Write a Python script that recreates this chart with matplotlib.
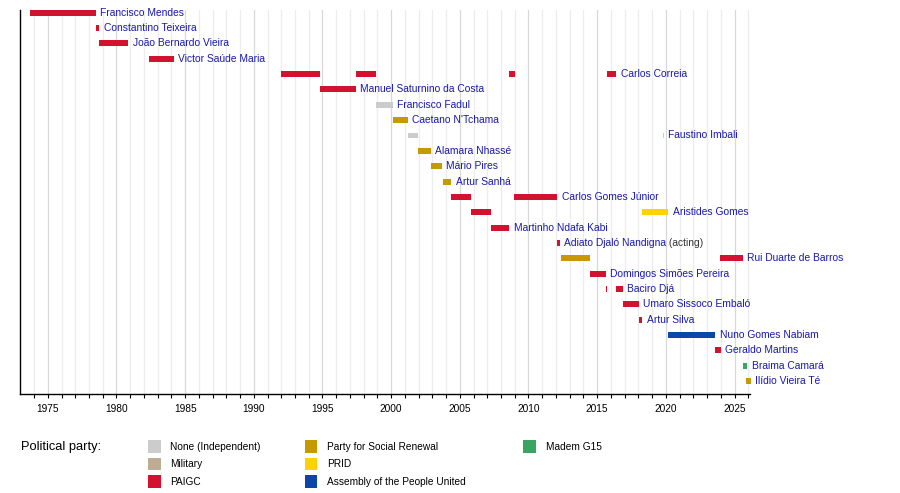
import matplotlib
matplotlib.use("Agg")
import matplotlib.pyplot as plt
from matplotlib.patches import Rectangle
import numpy as np

plt.rcParams["font.family"] = ["Liberation Sans", "DejaVu Sans"]

# rows of the timeline, top to bottom
names = [
    "Francisco Mendes", "Constantino Teixeira", "João Bernardo Vieira",
    "Victor Saúde Maria", "Carlos Correia", "Manuel Saturnino da Costa",
    "Francisco Fadul", "Caetano N'Tchama", "Faustino Imbali",
    "Alamara Nhassé", "Mário Pires", "Artur Sanhá", "Carlos Gomes Júnior",
    "Aristides Gomes", "Martinho Ndafa Kabi", "Adiato Djaló Nandigna",
    "Rui Duarte de Barros", "Domingos Simões Pereira", "Baciro Djá",
    "Umaro Sissoco Embaló", "Artur Silva", "Nuno Gomes Nabiam",
    "Geraldo Martins", "Braima Camará", "Ilídio Vieira Té",
]
name_suffix = {"Adiato Djaló Nandigna": " (acting)"}

# terms in office (decimal years)
term_row = [0, 1, 2, 3, 4, 4, 4, 4, 5, 6, 7, 8, 8, 9, 10, 11, 12, 12,
            13, 13, 14, 15, 16, 16, 17, 18, 18, 19, 20, 21, 22, 23, 24]
term_start = [1973.73, 1978.51, 1978.74, 1982.37, 1991.99, 1997.43, 2008.59,
              2015.71, 1994.82, 1998.92, 2000.13, 2001.22, 2019.83, 2001.94,
              2002.88, 2003.74, 2004.36, 2008.98, 2005.84, 2018.29, 2007.28,
              2012.11, 2012.37, 2023.97, 2014.50, 2015.64, 2016.40, 2016.88,
              2018.08, 2020.16, 2023.60, 2025.59, 2025.86]
term_end = [1978.51, 1978.74, 1980.87, 1984.19, 1994.82, 1998.92, 2009.00,
            2016.40, 1997.43, 2000.13, 2001.21, 2001.94, 2019.85, 2002.88,
            2003.70, 2004.36, 2005.84, 2012.11, 2007.28, 2020.16, 2008.59,
            2012.28, 2014.50, 2025.60, 2015.64, 2015.71, 2016.88, 2018.04,
            2018.29, 2023.60, 2024.00, 2025.91, 2026.18]
term_party = ["PAIGC", "PAIGC", "PAIGC", "PAIGC", "PAIGC", "PAIGC", "PAIGC",
              "PAIGC", "PAIGC", "None", "PRS", "None", "None", "PRS", "PRS",
              "PRS", "PAIGC", "PAIGC", "PAIGC", "PRID", "PAIGC", "PAIGC",
              "PRS", "PAIGC", "PAIGC", "PAIGC", "PAIGC", "PAIGC", "PAIGC",
              "APU", "PAIGC", "Madem", "PRS"]

party_keys = ["None", "Military", "PAIGC", "PRS", "PRID", "APU", "Madem"]
party_labels = ["None (Independent)", "Military", "PAIGC",
                "Party for Social Renewal", "PRID",
                "Assembly of the People United", "Madem G15"]
party_colors = ["#CCCCCC", "#BDAE93", "#D3122F", "#C49A00", "#FFD200",
                "#0A47A8", "#38A562"]

year_min, year_max = 1973.0, 2026.15
W, H = 900, 493
label_color = "#1A1AA8"

pcol = dict(zip(party_keys, party_colors))

fig = plt.figure(figsize=(W / 100, H / 100), dpi=100)
ax_l, ax_r, ax_t, ax_b = 20.3, 750.3, 10.0, 394.3
ax = fig.add_axes([ax_l / W, 1 - ax_b / H, (ax_r - ax_l) / W, (ax_b - ax_t) / H])

n = len(names)
ax.set_xlim(year_min, year_max)
ax.set_ylim(n - 1 + 0.87, -0.18)

# background grid
for yr in range(1974, 2027):
    c = "#D8D8D8" if yr % 5 == 0 else "#EDEDED"
    ax.axvline(yr, color=c, lw=0.9, zorder=0)

bh = 0.39
for r, s, e, p in zip(term_row, term_start, term_end, term_party):
    ax.barh(r, e - s, left=s, height=bh, color=pcol[p], lw=0, zorder=2,
            clip_on=False)

# label after the last term of each row
last_end = {}
for r, e in zip(term_row, term_end):
    last_end[r] = max(last_end.get(r, 0), e)
for r, nm in enumerate(names):
    t = ax.annotate(nm, (last_end[r], r), xytext=(4.5, 0),
                    textcoords="offset pixels", va="center", ha="left",
                    fontsize=7.4, color=label_color, zorder=3, clip_on=False)
    if nm in name_suffix:
        ax.annotate(name_suffix[nm], xy=(1, 0.5), xycoords=t,
                    va="center", ha="left", fontsize=7.4, color="#333333")

ax.spines[["top", "right"]].set_visible(False)
ax.spines["left"].set_linewidth(1.0)
ax.spines["bottom"].set_linewidth(1.0)
ax.set_yticks([])
ax.set_xticks(np.arange(1975, 2026, 5))
ax.set_xticks(np.arange(1974, 2027, 1), minor=True)
ax.tick_params(axis="x", which="both", length=3, width=0.8, direction="out",
               labelsize=7.3, pad=4)

# legend
fig.text(20.7 / W, 1 - 446.7 / H, "Political party:", fontsize=9.3,
         va="center", ha="left")
sw_x = [148.0, 148.0, 148.0, 304.6, 304.6, 304.6, 523.2]
sw_y = [446.7, 464.0, 481.7, 446.7, 464.0, 481.7, 446.7]
for x, y, lab, col in zip(sw_x, sw_y, party_labels, party_colors):
    fig.add_artist(Rectangle((x / W, 1 - (y + 6.3) / H), 12.7 / W, 12.7 / H,
                             transform=fig.transFigure, color=col, lw=0))
    fig.text((x + 22.5) / W, 1 - y / H, lab, fontsize=7.3, va="center",
             ha="left")

fig.savefig("out.png", dpi=100)
